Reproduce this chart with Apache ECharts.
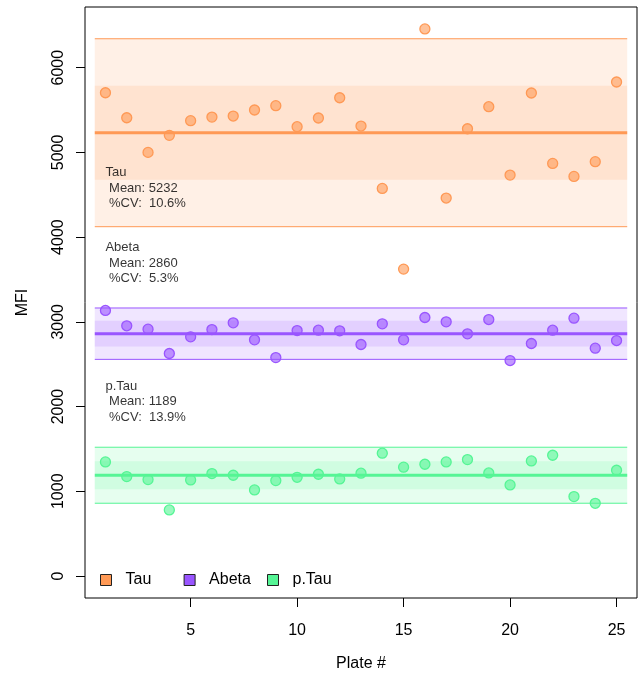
<!DOCTYPE html>
<html><head><meta charset="utf-8">
<script src="https://cdn.jsdelivr.net/npm/echarts@6/dist/echarts.min.js"></script>
<style>html,body{margin:0;padding:0;background:#fff}#c{width:642px;height:681px}</style>
</head><body><div id="c"></div>
<script>
// ---- data ----
const plates = [1,2,3,4,5,6,7,8,9,10,11,12,13,14,15,16,17,18,19,20,21,22,23,24,25];
const tau   = [5704,5409,5000,5201,5374,5417,5429,5500,5551,5303,5406,5645,5311,4575,3622,6457,4461,5279,5539,4732,5701,4870,4716,4890,5831];
const abeta = [3134,2953,2913,2626,2823,2909,2988,2787,2578,2897,2901,2894,2732,2976,2787,3051,3000,2858,3027,2543,2744,2901,3043,2689,2779];
const ptau  = [1346,1173,1138,780,1134,1209,1189,1016,1126,1165,1201,1146,1213,1449,1284,1319,1346,1374,1216,1075,1358,1425,937,858,1248];
const groupNames = ['Tau','Abeta','p.Tau'];
const groupMeans = [5232, 2860, 1189];
const groupCVs   = [10.6, 5.3, 13.9];
const annotY     = [4577, 3694, 2059];
const yTicks = [0,1000,2000,3000,4000,5000,6000];
const xTicks = [5,10,15,20,25];

// ---- styles ----
const FONT = '"Liberation Sans", Arial, Helvetica, sans-serif';
const colors = ['#FF9955','#9955FF','#55F595'];
const rgb = [[255,153,85],[153,85,255],[85,245,149]];
const rgba = (i,a)=>`rgba(${rgb[i][0]},${rgb[i][1]},${rgb[i][2]},${a})`;
const values = [tau, abeta, ptau];
const bandStart = plates[0] - 0.5, bandEnd = plates[plates.length-1] + 0.5;
const legendLefts = [95, 178.6, 262];

const series = [];
groupNames.forEach((name, i) => {
  const m = groupMeans[i], sd = m * groupCVs[i] / 100;
  const lo2 = m - 2*sd, hi2 = m + 2*sd, lo1 = m - sd, hi1 = m + sd;
  series.push({
    type:'line', name: name + ' mean', silent:true, symbol:'none', z:2,
    data:[[bandStart,m],[bandEnd,m]],
    lineStyle:{color:colors[i], width:3},
    markArea:{silent:true, z:1, itemStyle:{color:rgba(i,0.15)},
      data:[[{coord:[bandStart,lo2]},{coord:[bandEnd,hi2]}],
            [{coord:[bandStart,lo1]},{coord:[bandEnd,hi1]}]]}
  });
  series.push({type:'line', name:name+' hi', silent:true, symbol:'none', z:2,
    data:[[bandStart,hi2],[bandEnd,hi2]], lineStyle:{color:colors[i], width:1}});
  series.push({type:'line', name:name+' lo', silent:true, symbol:'none', z:2,
    data:[[bandStart,lo2],[bandEnd,lo2]], lineStyle:{color:colors[i], width:1}});
  series.push({
    type:'scatter', name:name, z:5, symbolSize:10,
    data: plates.map((p,k)=>[p, values[i][k]]),
    itemStyle:{color:rgba(i,0.6), borderColor:colors[i], borderWidth:1.3, opacity:1}
  });
  series.push({
    type:'scatter', name:name+' text', silent:true, symbolSize:0, z:6,
    data:[[plates[0], annotY[i]]],
    label:{show:true, position:[0,0], align:'left', verticalAlign:'middle',
      fontFamily:FONT, fontSize:13, lineHeight:15.5, color:'#000',
      formatter: name + '\n Mean: ' + m + '\n %CV:  ' + groupCVs[i].toFixed(1) + '%'}
  });
});

const legends = groupNames.map((n,i)=>({
  data:[{name:n, itemStyle:{color:colors[i], borderColor:'#222', borderWidth:1}}],
  icon:'rect', itemWidth:11, itemHeight:11, left:legendLefts[i], top:567,
  selectedMode:false,
  textStyle:{fontFamily:FONT, fontSize:16, color:'#000', padding:[0,0,0,9]}
}));

const chart = echarts.init(document.getElementById('c'), null, {renderer:'canvas'});
chart.setOption({
  animation:false,
  backgroundColor:'#fff',
  grid:{left:85, right:5, top:7, bottom:83, show:true, borderColor:'#000', borderWidth:1, backgroundColor:'transparent'},
  xAxis:{type:'value', min:0.04, max:25.96, position:'bottom',
    name:'Plate #', nameLocation:'middle', nameGap:58,
    nameTextStyle:{fontFamily:FONT, fontSize:16, color:'#000'},
    axisLine:{show:false, onZero:false}, splitLine:{show:false},
    axisTick:{show:true, length:9, customValues:xTicks, lineStyle:{color:'#000'}},
    axisLabel:{customValues:xTicks, margin:25, fontFamily:FONT, fontSize:16, color:'#000'}},
  yAxis:{type:'value', min:-260, max:6716, position:'left',
    name:'MFI', nameLocation:'middle', nameGap:54, nameRotate:90,
    nameTextStyle:{fontFamily:FONT, fontSize:16, color:'#000'},
    axisLine:{show:false, onZero:false}, splitLine:{show:false},
    axisTick:{show:true, length:9, customValues:yTicks, lineStyle:{color:'#000'}},
    axisLabel:{customValues:yTicks, rotate:90, margin:18, fontFamily:FONT, fontSize:16, color:'#000',
      formatter:v=>String(v)}},
  legend: legends,
  series: series
});
</script></body></html>
